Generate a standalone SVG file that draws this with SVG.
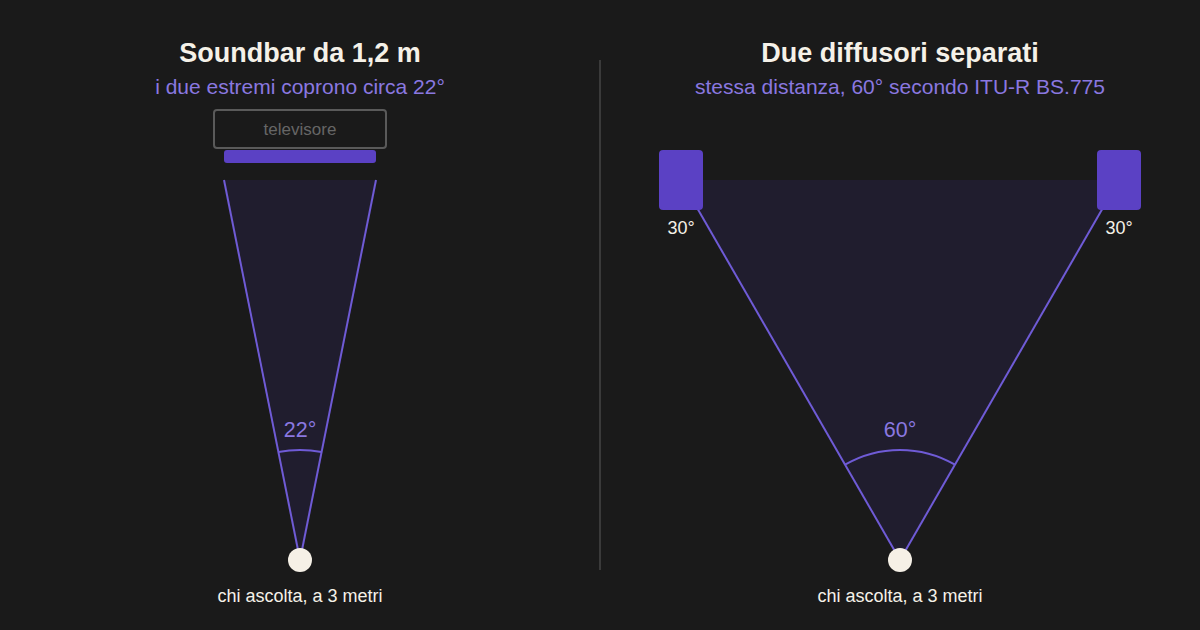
<svg xmlns="http://www.w3.org/2000/svg" width="1200" height="630" viewBox="0 0 1200 630">
<style>
.title{font-family:"Liberation Sans",Arial,sans-serif;font-weight:bold;font-size:27px;fill:#f5f1e8;text-anchor:middle}
.sub{font-family:"Liberation Sans",Arial,sans-serif;font-size:21px;fill:#8a78e0;text-anchor:middle}
.lbl{font-family:"Liberation Sans",Arial,sans-serif;font-size:18px;fill:#f5f1e8;text-anchor:middle}
.ang{font-family:"Liberation Sans",Arial,sans-serif;font-size:21.5px;fill:#8a78e0;text-anchor:middle}
.ray{stroke:#6f5bd6;stroke-width:2;fill:none}
.fill{fill:#201d2e}
.spk{fill:#5b41c4}
.ear{fill:#f5f0e6}
</style>
<rect width="1200" height="630" fill="#1a1a1a"/>
<line x1="600" y1="60" x2="600" y2="570" stroke="#3a3a3a" stroke-width="2"/>
<g id="left">
<text class="title" x="300" y="62">Soundbar da 1,2 m</text>
<text class="sub" x="300" y="94">i due estremi coprono circa 22°</text>
<g id="tv"><rect x="214" y="110" width="172" height="38" rx="3" fill="none" stroke="#5a5a5a" stroke-width="2"/><text x="300" y="135" font-family="Liberation Sans,Arial,sans-serif" font-size="17" fill="#666" text-anchor="middle">televisore</text></g>
<rect id="soundbar" class="spk" x="224" y="150" width="152" height="13" rx="3"/>
<polygon class="fill" points="224,180 376,180 300,560"/>
<g id="left-connectors"><line class="ray" x1="224" y1="180" x2="300" y2="560"/><line class="ray" x1="376" y1="180" x2="300" y2="560"/><path class="ray" d="M278.4,452.1 A110,110 0 0 1 321.6,452.1"/></g>
<text class="ang" x="300" y="437">22°</text>
<circle id="listener-left" class="ear" cx="300" cy="560" r="12"/>
<text class="lbl" x="300" y="602">chi ascolta, a 3 metri</text>
</g>
<g id="right">
<text class="title" x="900" y="62">Due diffusori separati</text>
<text class="sub" x="900" y="94">stessa distanza, 60° secondo ITU-R BS.775</text>
<polygon class="fill" points="681,180 1119,180 900,560"/>
<g id="right-connectors"><line class="ray" x1="681" y1="180" x2="900" y2="560"/><line class="ray" x1="1119" y1="180" x2="900" y2="560"/><path class="ray" d="M845,464.7 A110,110 0 0 1 955,464.7"/></g>
<rect id="spk-left" class="spk" x="659" y="150" width="44" height="60" rx="4"/>
<rect id="spk-right" class="spk" x="1097" y="150" width="44" height="60" rx="4"/>
<text class="lbl" x="681" y="234">30°</text>
<text class="lbl" x="1119" y="234">30°</text>
<text class="ang" x="900" y="437">60°</text>
<circle id="listener-right" class="ear" cx="900" cy="560" r="12"/>
<text class="lbl" x="900" y="602">chi ascolta, a 3 metri</text>
</g>
</svg>
